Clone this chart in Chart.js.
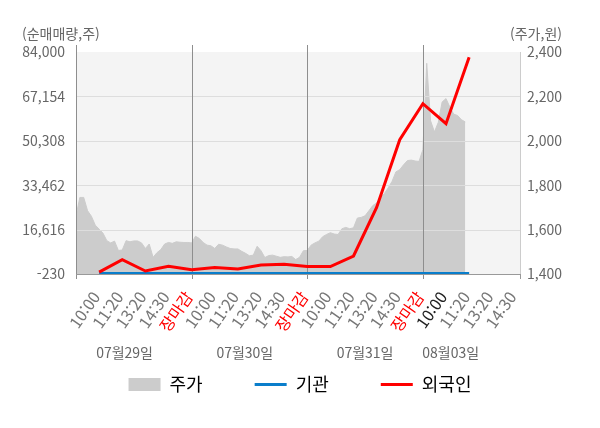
<!DOCTYPE html>
<html lang="ko">
<head>
<meta charset="utf-8">
<title>순매매량 / 주가</title>
<script src="https://cdn.jsdelivr.net/npm/chart.js@4.4.1/dist/chart.umd.min.js"></script>
<style>
  html, body { margin: 0; padding: 0; background: #fff; }
  #wrap { width: 600px; height: 428px; }
</style>
</head>
<body>
<div id="wrap"><canvas id="chart" width="600" height="428"></canvas></div>
<script>
// x축 시간 라벨 (4거래일, 장마감은 날짜 경계)
const xLabels = [
  '10:00', '11:20', '13:20', '14:30', '장마감',
  '10:00', '11:20', '13:20', '14:30', '장마감',
  '10:00', '11:20', '13:20', '14:30', '장마감',
  '10:00', '11:20', '13:20', '14:30'
];
const dayLabels = ['07월29일', '07월30일', '07월31일', '08월03일'];
const leftTicks = [-230, 16616, 33462, 50308, 67154, 84000];
const rightTicks = [1400, 1600, 1800, 2000, 2200, 2400];

// 누적 순매매량 (주), x축 라벨 위치마다 한 값
const foreignNet = [500, 5200, 900, 2700, 1400, 2200, 1700, 3200, 3500, 2600,
  2600, 6600, 25000, 50700, 64400, 56800, 82000];
const institNet = [0, 0, 0, 0, 0, 0, 0, 0, 0, 0, 0, 0, 0, 0, 0, 0, 0];

// 주가 (원), 라벨 한 칸에 6개씩, 첫날 장 시작부터
const price = [
  1662, 1745, 1745, 1685, 1660, 1620, 1602, 1584, 1550, 1540,
  1548, 1506, 1508, 1550, 1545, 1549, 1549, 1540, 1515, 1535,
  1475, 1496, 1510, 1535, 1542, 1538, 1545, 1543, 1542, 1542,
  1540, 1570, 1560, 1542, 1530, 1527, 1515, 1534, 1530, 1522,
  1515, 1513, 1513, 1502, 1493, 1482, 1485, 1525, 1505, 1474,
  1483, 1485, 1480, 1475, 1478, 1477, 1479, 1465, 1475, 1505,
  1506, 1530, 1540, 1548, 1568, 1578, 1586, 1580, 1578, 1604,
  1610, 1604, 1608, 1652, 1655, 1662, 1685, 1708, 1720, 1743,
  1762, 1788, 1817, 1860, 1870, 1892, 1911, 1913, 1909, 1907,
  1960, 2349, 2090, 2040, 2083, 2175, 2190, 2152, 2120, 2114,
  2095, 2085
];
const PRICE_STEP = 1 / 6;

Chart.defaults.font.family = '"Noto Sans CJK KR", "Noto Sans", sans-serif';

const decor = {
  id: 'decor',
  // 회전된 시간 라벨이 잘리지 않도록 x축 아래쪽을 넓힌다
  afterLayout(chart) {
    chart.scales.x.bottom += 20;
  },
  beforeDraw(chart) {
    const { ctx, chartArea: a } = chart;
    ctx.save();
    ctx.fillStyle = '#f4f4f4';
    ctx.fillRect(a.left, a.top, a.right - a.left, a.bottom - a.top);
    ctx.restore();
  },
  // 주가 영역 위에 격자를 그린다
  afterDatasetDraw(chart, args) {
    if (args.index !== 0) return;
    const { ctx, chartArea: a, scales } = chart;
    ctx.save();
    ctx.lineWidth = 1;
    ctx.strokeStyle = '#dddddd';
    leftTicks.slice(1, -1).forEach((v) => {
      const y = Math.round(scales.y.getPixelForValue(v)) + 0.5;
      ctx.beginPath();
      ctx.moveTo(a.left, y);
      ctx.lineTo(a.right, y);
      ctx.stroke();
    });
    ctx.strokeStyle = '#8e8e8e';
    [-1, 4, 9, 14].forEach((v) => {
      const x = Math.round(scales.x.getPixelForValue(v)) + 0.5;
      ctx.beginPath();
      ctx.moveTo(x, a.top - 7);
      ctx.lineTo(x, a.bottom + 5);
      ctx.stroke();
    });
    ctx.restore();
  },
  afterDraw(chart) {
    const { ctx, chartArea: a, scales } = chart;
    ctx.save();
    ctx.lineWidth = 1;
    ctx.strokeStyle = '#cccccc';
    ctx.beginPath();
    ctx.moveTo(a.right + 0.5, a.top);
    ctx.lineTo(a.right + 0.5, a.bottom);
    ctx.stroke();
    ctx.strokeStyle = '#999999';
    ctx.beginPath();
    ctx.moveTo(a.left, Math.round(a.bottom) + 0.5);
    ctx.lineTo(a.right, Math.round(a.bottom) + 0.5);
    ctx.moveTo(a.right + 0.5, a.bottom);
    ctx.lineTo(a.right + 0.5, a.bottom + 5);
    ctx.stroke();

    ctx.fillStyle = '#666666';
    ctx.font = '14px "Noto Sans CJK KR"';
    ctx.textBaseline = 'middle';
    ctx.textAlign = 'left';
    ctx.fillText('(순매매량,주)', 22, 34);
    ctx.textAlign = 'right';
    ctx.fillText('(주가,원)', 562, 34);

    ctx.textAlign = 'center';
    const dayPos = [1.1, 6.3, 11.5, 15.2];
    dayLabels.forEach((t, i) => {
      ctx.fillText(t, scales.x.getPixelForValue(dayPos[i]), 353);
    });
    ctx.restore();
  }
};

new Chart(document.getElementById('chart'), {
  type: 'line',
  data: {
    datasets: [
      {
        label: '주가',
        data: price.map((v, i) => ({ x: -1 + i * PRICE_STEP, y: v })),
        yAxisID: 'y2',
        fill: 'start',
        backgroundColor: '#cccccc',
        borderColor: '#cccccc',
        borderWidth: 1,
        pointRadius: 0,
        order: 3
      },
      {
        label: '기관',
        data: institNet.map((v, i) => ({ x: i, y: v })),
        yAxisID: 'y',
        borderColor: '#0a7ecb',
        borderWidth: 3,
        pointRadius: 0,
        order: 2
      },
      {
        label: '외국인',
        data: foreignNet.map((v, i) => ({ x: i, y: v })),
        yAxisID: 'y',
        borderColor: '#ff0000',
        borderWidth: 3,
        pointRadius: 0,
        order: 1
      }
    ]
  },
  options: {
    responsive: false,
    animation: false,
    layout: { padding: { top: 52, bottom: 24.5, left: 0, right: 0 } },
    scales: {
      x: {
        type: 'linear',
        min: -1,
        max: 18.2,
        afterBuildTicks: (s) => { s.ticks = xLabels.map((_, i) => ({ value: i })); },
        afterFit: (s) => { s.height = 49.5; },
        grid: { display: false, drawTicks: false },
        border: { display: false },
        ticks: {
          autoSkip: false,
          minRotation: 55,
          maxRotation: 55,
          padding: 14,
          labelOffset: -3,
          font: { size: 16 },
          color: (c) => xLabels[c.index] === '장마감' ? '#ff0000' : (c.index === 15 ? '#222222' : '#777777'),
          callback: (v, i) => xLabels[i]
        }
      },
      y: {
        position: 'left',
        min: -230,
        max: 84000,
        afterBuildTicks: (s) => { s.ticks = leftTicks.map((v) => ({ value: v })); },
        afterFit: (s) => { s.width = 76; },
        grid: { display: false, drawTicks: false },
        border: { display: false },
        ticks: {
          padding: 11,
          color: '#666666',
          font: { size: 14 },
          callback: (v) => v.toLocaleString('en-US')
        }
      },
      y2: {
        position: 'right',
        min: 1400,
        max: 2400,
        afterBuildTicks: (s) => { s.ticks = rightTicks.map((v) => ({ value: v })); },
        afterFit: (s) => { s.width = 80; },
        grid: { display: false, drawTicks: false },
        border: { display: false },
        ticks: {
          padding: 7,
          color: '#666666',
          font: { size: 14 },
          callback: (v) => v.toLocaleString('en-US')
        }
      }
    },
    plugins: {
      tooltip: { enabled: false },
      legend: {
        position: 'bottom',
        labels: {
          usePointStyle: true,
          pointStyleWidth: 32,
          boxHeight: 13,
          padding: 52,
          color: '#333333',
          font: { size: 18 },
          generateLabels: () => [
            { text: '주가', fillStyle: '#cccccc', strokeStyle: '#cccccc', lineWidth: 0, pointStyle: 'rect', datasetIndex: 0 },
            { text: '기관', fillStyle: '#0a7ecb', strokeStyle: '#0a7ecb', lineWidth: 3, pointStyle: 'line', datasetIndex: 1 },
            { text: '외국인', fillStyle: '#ff0000', strokeStyle: '#ff0000', lineWidth: 3, pointStyle: 'line', datasetIndex: 2 }
          ]
        }
      }
    }
  },
  plugins: [decor]
});
</script>
</body>
</html>
